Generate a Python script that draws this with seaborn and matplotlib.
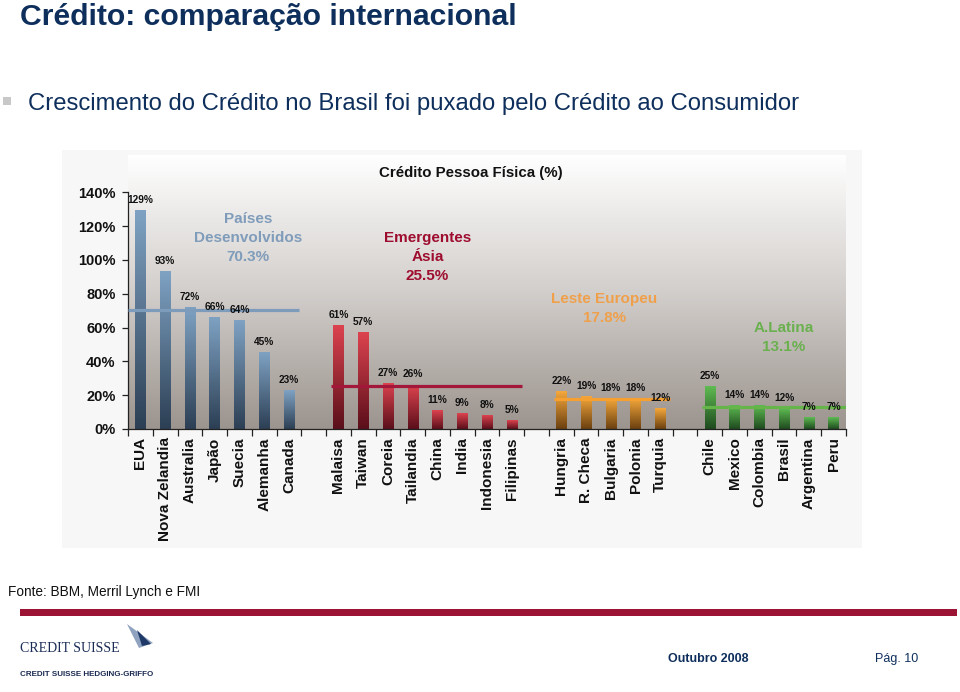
import matplotlib
matplotlib.use('Agg')
import matplotlib.pyplot as plt
import numpy as np
import pandas as pd
import seaborn as sns
from matplotlib.colors import LinearSegmentedColormap
from matplotlib.patches import Polygon, Rectangle

# data
desenvolvidos = ['EUA', 'Nova Zelandia', 'Australia', 'Japão', 'Suecia', 'Alemanha', 'Canada']
desenvolvidos_val = [129, 93, 72, 66, 64, 45, 23]
asia = ['Malaisa', 'Taiwan', 'Coreia', 'Tailandia', 'China', 'India', 'Indonesia', 'Filipinas']
asia_val = [61, 57, 27, 26, 11, 9, 8, 5]
europa = ['Hungria', 'R. Checa', 'Bulgaria', 'Polonia', 'Turquia']
europa_val = [22, 19, 18, 18, 12]
latina = ['Chile', 'Mexico', 'Colombia', 'Brasil', 'Argentina', 'Peru']
latina_val = [25, 14, 14, 12, 7, 7]

grupos = ['Países\nDesenvolvidos', 'Emergentes\nÁsia', 'Leste Europeu', 'A.Latina']
medias = [70.3, 25.5, 17.8, 13.1]

paises = [desenvolvidos, asia, europa, latina]
valores = [desenvolvidos_val, asia_val, europa_val, latina_val]

cores_texto = ['#7f9cba', '#9e0c2e', '#f0a04a', '#6ab04f']
cores_linha = ['#7d9bba', '#a3173a', '#f5a030', '#66b54a']
grad_barras = [('#2c3f54', '#7fa2c3'), ('#5a0f1a', '#dc434f'),
               ('#6b4010', '#f5a83c'), ('#1f4a1f', '#5fbb52')]


def run():
    sns.set_theme(style='white')
    plt.rcParams['font.family'] = ['Liberation Sans', 'DejaVu Sans']

    rows = []
    order = []
    for g, (ps, vs) in enumerate(zip(paises, valores)):
        for p, v in zip(ps, vs):
            rows.append({'pais': p, 'valor': v, 'grupo': g})
            order.append(p)
        if g < len(paises) - 1:
            order.append(' ' * (g + 1))
    df = pd.DataFrame(rows)
    grupo_de = dict(zip(df['pais'], df['grupo']))

    fig = plt.figure(figsize=(9.6, 6.92), dpi=100)
    W, H = 960, 692

    # light panel behind the chart picture
    fig.patches.append(Rectangle((62 / W, 1 - 548 / H), 800 / W, 398 / H,
                                 transform=fig.transFigure, facecolor='#f7f7f7',
                                 edgecolor='none', zorder=-5))

    ax = fig.add_axes([128 / W, 1 - 429 / H, (846 - 128) / W, (429 - 155) / H])
    ax.patch.set_alpha(0)
    ytop = 162

    sns.barplot(data=df, x='pais', y='valor', hue='grupo', order=order,
                palette=[c[1] for c in grad_barras], width=0.42, dodge=False,
                legend=False, ax=ax, errorbar=None)

    xlim = (-0.5, len(order) - 0.5)

    # gradient background
    bg = LinearSegmentedColormap.from_list('bg', ['#9c948e', '#d2cecb', '#ffffff'])
    ax.imshow(np.linspace(0, 1, 256).reshape(-1, 1), extent=[xlim[0], xlim[1], 0, ytop],
              origin='lower', aspect='auto', cmap=bg, zorder=0)

    grad = np.linspace(0, 1, 128).reshape(-1, 1)
    for patch in list(ax.patches):
        x0, w, h = patch.get_x(), patch.get_width(), patch.get_height()
        if h <= 0 or np.isnan(h):
            continue
        idx = int(round(x0 + w / 2))
        g = grupo_de[order[idx]]
        cm = LinearSegmentedColormap.from_list('b%d' % g, list(grad_barras[g]))
        ax.imshow(grad, extent=[x0, x0 + w, 0, h], origin='lower', aspect='auto',
                  cmap=cm, zorder=2)
        patch.set_visible(False)
        ax.annotate('%d%%' % round(h), (x0 + w / 2, h), xytext=(0, 4),
                    textcoords='offset points', ha='center', va='bottom',
                    fontsize=7.3, fontweight='bold', color='#111111', zorder=5)

    # group average lines and labels
    for g, ps in enumerate(paises):
        i0 = order.index(ps[0])
        i1 = order.index(ps[-1])
        left = i0 - (0.5 if g == 0 else 0.3)
        right = i1 + (0.5 if g == len(paises) - 1 else 0.4)
        ax.plot([left, right], [medias[g], medias[g]], color=cores_linha[g],
                lw=2.3, zorder=3, solid_capstyle='butt')

    label_pos = [(4.35, 113), (11.6, 101.5), (18.75, 71.5), (26.0, 54)]
    for g, (lx, ly) in enumerate(label_pos):
        ax.text(lx, ly, '%s\n%.1f%%' % (grupos[g], medias[g]), ha='center', va='center',
                fontsize=11, fontweight='bold', color=cores_texto[g], linespacing=1.45,
                zorder=5)

    ax.set_xlim(*xlim)
    ax.set_ylim(0, ytop)
    ax.set_xlabel('')
    ax.set_ylabel('')
    for s in ['top', 'right']:
        ax.spines[s].set_visible(False)
    for s in ['left', 'bottom']:
        ax.spines[s].set_color('#222222')
        ax.spines[s].set_linewidth(0.9)
    ax.spines['left'].set_bounds(0, 140)

    ax.set_yticks(np.arange(0, 141, 20))
    ax.set_yticklabels(['%d%%' % v for v in range(0, 141, 20)], fontsize=10.5,
                       fontweight='bold', color='#111111')
    ax.tick_params(axis='y', left=True, length=4, width=0.9, color='#222222', pad=5)

    ax.set_xticks(np.arange(len(order)))
    ax.set_xticklabels(order, rotation=90, fontsize=11, fontweight='bold', color='#111111')
    ax.set_xticks(np.arange(len(order) + 1) - 0.5, minor=True)
    ax.tick_params(axis='x', which='major', length=0, pad=6)
    ax.tick_params(axis='x', which='minor', bottom=True, length=5, width=0.9,
                   color='#222222', direction='out')

    fig.text(471 / W, 1 - 173 / H, 'Crédito Pessoa Física (%)', ha='center', va='center',
             fontsize=10.8, fontweight='bold', color='#111111')

    # slide texts
    navy = '#0e2f5c'
    fig.text(20 / W, 1 - 17 / H, 'Crédito: comparação internacional', ha='left',
             va='center', fontsize=21.7, fontweight='bold', color=navy)
    fig.patches.append(Rectangle((3 / W, 1 - 105 / H), 8 / W, 8 / H,
                                 transform=fig.transFigure, facecolor='#c8c8c8',
                                 edgecolor='none'))
    fig.text(28 / W, 1 - 104 / H,
             'Crescimento do Crédito no Brasil foi puxado pelo Crédito ao Consumidor',
             ha='left', va='center', fontsize=17.2, color=navy)

    fig.text(8 / W, 1 - 592 / H, 'Fonte: BBM, Merril Lynch e FMI', ha='left', va='center',
             fontsize=9.8, color='#111111')
    fig.patches.append(Rectangle((20 / W, 1 - 616 / H), 937 / W, 7 / H,
                                 transform=fig.transFigure, facecolor='#9b1433',
                                 edgecolor='none'))

    fig.text(20 / W, 1 - 648 / H, 'CREDIT SUISSE', ha='left', va='center', fontsize=10,
             family=['Liberation Serif', 'DejaVu Serif'], color='#1a2c55')
    fig.text(20 / W, 1 - 674 / H, 'CREDIT SUISSE HEDGING-GRIFFO', ha='left', va='center',
             fontsize=5.8, fontweight='bold', color='#1a2a50')
    sail1 = [(127, 624), (153, 643), (139, 648)]
    sail2 = [(137, 630), (151, 644), (142, 646)]
    fig.patches.append(Polygon([(x / W, 1 - y / H) for x, y in sail1], closed=True,
                               transform=fig.transFigure, facecolor='#8fa3c0',
                               edgecolor='none'))
    fig.patches.append(Polygon([(x / W, 1 - y / H) for x, y in sail2], closed=True,
                               transform=fig.transFigure, facecolor='#1f3a68',
                               edgecolor='none'))

    fig.text(668 / W, 1 - 659 / H, 'Outubro 2008', ha='left', va='center', fontsize=9,
             fontweight='bold', color=navy)
    fig.text(875 / W, 1 - 659 / H, 'Pág. 10', ha='left', va='center', fontsize=9,
             color=navy)

    fig.savefig('out.png', dpi=100, facecolor='white')
    plt.close(fig)


if __name__ == '__main__':
    run()
